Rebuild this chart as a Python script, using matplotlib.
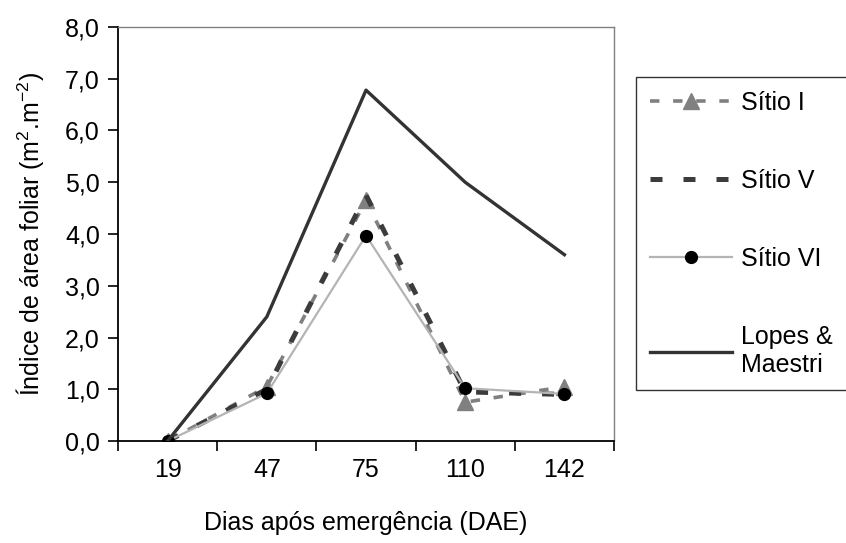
import matplotlib.pyplot as plt
import numpy as np

plt.rcParams['font.family'] = ['Liberation Sans', 'DejaVu Sans']
plt.rcParams['mathtext.default'] = 'regular'

dias = ['19', '47', '75', '110', '142']
sitio_i = [0.0, 1.05, 4.65, 0.75, 1.05]
sitio_v = [0.0, 1.0, 4.75, 0.95, 0.9]
sitio_vi = [0.0, 0.92, 3.97, 1.02, 0.91]
lopes_maestri = [0.0, 2.4, 6.78, 5.0, 3.6]

x = np.arange(len(dias))
fs = 18

fig = plt.figure(figsize=(8.46, 5.43), dpi=100)
ax = fig.add_axes([0.1395, 0.1878, 0.5863, 0.7625])

ax.plot(x, sitio_i, color='#808080', lw=2.6, dashes=(2.6, 3.8),
        marker='^', markersize=12, markeredgecolor='#808080',
        markerfacecolor='#808080', label='Sítio I', zorder=3)
ax.plot(x, sitio_v, color='#3c3c3c', lw=3.6, dashes=(2.4, 4.2),
        label='Sítio V', zorder=4)
ax.plot(x, sitio_vi, color='#b4b4b4', lw=1.6, marker='o', markersize=8.5,
        markerfacecolor='black', markeredgecolor='black',
        label='Sítio VI', zorder=5)
ax.plot(x, lopes_maestri, color='#333333', lw=2.4,
        label='Lopes &\nMaestri', zorder=6)

ax.set_xlim(-0.5, len(dias) - 0.5)
ax.set_ylim(0, 8)
ax.set_yticks(np.arange(0, 9, 1))
ax.set_yticklabels([f'{v:.1f}'.replace('.', ',') for v in range(9)])
ax.set_xticks(x)
ax.set_xticklabels(dias)
ax.set_xticks(np.arange(-0.5, len(dias), 1), minor=True)

ax.tick_params(axis='x', which='major', length=0, pad=12, labelsize=fs)
ax.tick_params(axis='x', which='minor', length=7, width=1.2, direction='out')
ax.tick_params(axis='y', length=7, width=1.2, direction='out', pad=6,
               labelsize=fs)

for side in ['left', 'bottom']:
    ax.spines[side].set_color('black')
    ax.spines[side].set_linewidth(1.3)
for side in ['top', 'right']:
    ax.spines[side].set_color('#808080')
    ax.spines[side].set_linewidth(1.0)

ax.set_xlabel('Dias após emergência (DAE)', fontsize=fs, labelpad=21)
ax.set_ylabel('Índice de área foliar (m$^{2}$.m$^{-2}$)', fontsize=fs,
              labelpad=14)

leg = fig.legend(loc='upper left', bbox_to_anchor=(0.752, 0.858),
                 fontsize=fs, handlelength=3.3, handletextpad=0.36,
                 labelspacing=2.16, borderpad=0.55, frameon=True,
                 fancybox=False, edgecolor='black', borderaxespad=0)
leg.get_frame().set_linewidth(1.0)

fig.savefig('out.png', dpi=100)
